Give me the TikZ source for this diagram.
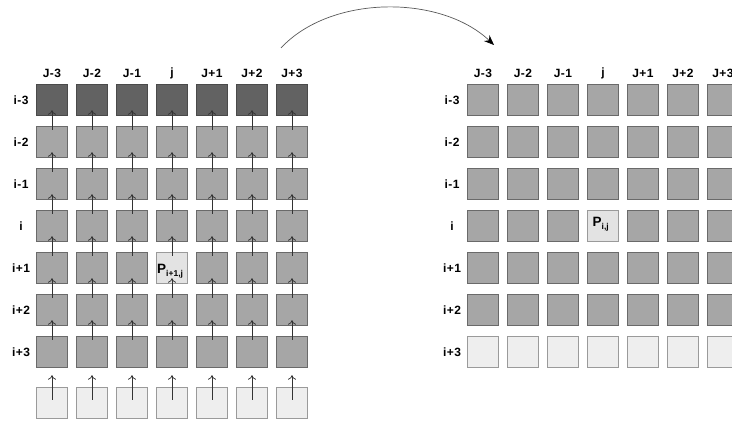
\documentclass[tikz,border=0pt]{standalone}
\usepackage{fontspec}
\setmainfont{Liberation Sans}
\newfontfamily\labfont[LetterSpace=4]{Liberation Sans}
\usetikzlibrary{arrows.meta,calc}
\definecolor{darkfill}{HTML}{626262}
\definecolor{darkline}{HTML}{4A4A4A}
\definecolor{midfill}{HTML}{A6A6A6}
\definecolor{midline}{HTML}{6A6A6A}
\definecolor{lightfill}{HTML}{EEEEEE}
\definecolor{lightline}{HTML}{9A9A9A}
\definecolor{pfill}{HTML}{E3E3E3}
\tikzset{
  cell/.style={draw, line width=0.9pt, minimum size=31.5pt, inner sep=0pt, rectangle},
  darkcell/.style={cell, fill=darkfill, draw=darkline},
  midcell/.style={cell, fill=midfill, draw=midline},
  lightcell/.style={cell, fill=lightfill, draw=lightline},
  pcell/.style={cell, fill=pfill, draw=lightline},
  lab/.style={font=\labfont\bfseries\fontsize{12}{13}\selectfont, inner sep=0pt, text=black},
  uparrow/.style={draw=black!80, line width=0.75pt, -{To[length=4.5pt,width=8pt]}},
  plab/.style={font=\bfseries\fontsize{13.5}{13.5}\selectfont, inner sep=0pt, anchor=base west, text=black}
}
\begin{document}
\begin{tikzpicture}[x=1pt,y=-1pt]
\useasboundingbox (0,0) rectangle (732,425);
\clip (0,0) rectangle (732,425);
% column labels
\foreach \c/\t in {0/J-3,1/J-2,2/J-1,3/j,4/J+1,5/J+2,6/J+3}{
  \node[lab] (LC\c) at (52+40*\c,73) {\t};
  \node[lab] (RC\c) at (483+40*\c,73) {\t};
}
% row labels
\foreach \r/\t in {0/i-3,1/i-2,2/i-1,3/i,4/i+1,5/i+2,6/i+3}{
  \node[lab] (LR\r) at (21,100+42*\r) {\t};
  \node[lab] (RR\r) at (452,100+42*\r) {\t};
}
% left grid
\foreach \c in {0,...,6}{
  \node[darkcell] (L-0-\c) at (52+40*\c,100) {};
  \foreach \r in {1,...,6}{
    \node[midcell] (L-\r-\c) at (52+40*\c,100+42*\r) {};
  }
  \node[lightcell] (L-7-\c) at (52+40*\c,403) {};
}
\node[pcell] (L-4-3) at (172,268) {};
% right grid
\foreach \c in {0,...,6}{
  \foreach \r in {0,...,5}{
    \node[midcell] (R-\r-\c) at (483+40*\c,100+42*\r) {};
  }
  \node[lightcell] (R-6-\c) at (483+40*\c,352) {};
}
\node[pcell] (R-3-3) at (603,226) {};
% arrows in left grid
\foreach \c in {0,...,6}{
  \foreach \r [evaluate=\r as \p using int(\r-1)] in {1,...,6}{
    \draw[uparrow] ($(L-\r-\c.north)+(0,4)$) -- ($(L-\p-\c.south)+(0,-6)$);
  }
  \draw[uparrow] ($(L-7-\c.north)+(0,13)$) -- ($(L-6-\c.south)+(0,7)$);
}
% P labels
\node[plab] (PL) at (157,273) {P\raisebox{-3pt}{\fontsize{8.5}{8.5}\selectfont i+1,j}};
\node[plab] (PR) at (592.5,227) {P\raisebox{-3pt}{\fontsize{8.5}{8.5}\selectfont i,j}};
% curved arrow
\coordinate (ca) at (281,48);
\coordinate (cb) at (494,45);
\draw[black!65, line width=0.7pt, -{Stealth[length=10pt,width=8pt,black]}] (ca) .. controls (330,-5) and (440,-6) .. (cb);
\end{tikzpicture}
\end{document}
